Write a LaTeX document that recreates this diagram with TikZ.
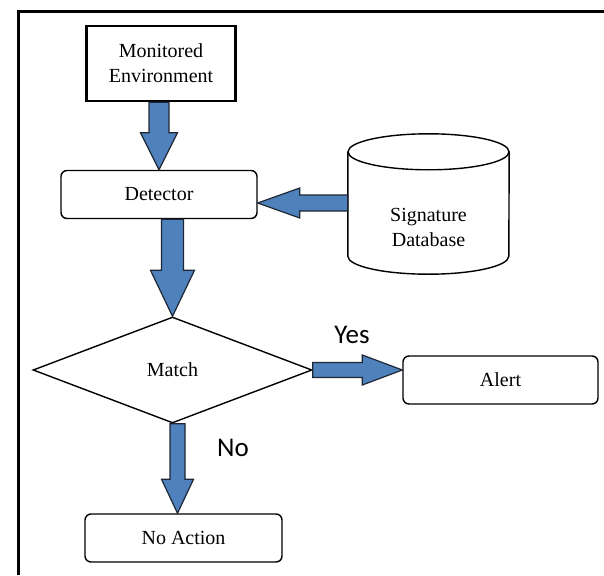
\documentclass[tikz,border=0pt]{standalone}
\usepackage{fontspec}
\setmainfont{Liberation Serif}
\newfontfamily\answerfont{Carlito}
\usetikzlibrary{arrows.meta,positioning,calc,shapes.geometric}
\definecolor{arrowblue}{HTML}{4F81BD}
\definecolor{arrowedge}{HTML}{1E2733}
\tikzset{
  boxfont/.style={font=\fontsize{20}{25}\selectfont},
  stepbox/.style={draw=black, rounded corners=6pt, line width=1.4pt,
    minimum width=196pt, minimum height=48pt, inner sep=0pt, boxfont},
  sourcebox/.style={draw=black, line width=2.6pt, minimum width=149pt,
    minimum height=75pt, inner sep=0pt, align=center, boxfont},
  decision/.style={diamond, draw=black, line width=1.4pt, aspect=2.6,
    minimum width=279pt, minimum height=106pt, inner sep=0pt, boxfont},
  store/.style={minimum width=161pt, minimum height=140pt, inner sep=0pt},
  storeline/.style={draw=black, line width=1.4pt},
  fatarrow/.style={draw=arrowedge, fill=arrowblue, line width=1.2pt, line join=miter},
  answer/.style={font=\answerfont\fontsize{27}{30}\selectfont},
  frame/.style={draw=black, line width=3pt},
}
% block arrow: from, to, half shaft, half head, head length
\newcommand{\fatarrow}[5]{%
  \coordinate (fa-h) at ($(#2)!#5!(#1)$);
  \draw[fatarrow] ($(#1)!#3!90:(#2)$) -- ($(fa-h)!#3!90:(#2)$)
    -- ($(fa-h)!#4!90:(#2)$) -- (#2) -- ($(fa-h)!#4!-90:(#2)$)
    -- ($(fa-h)!#3!-90:(#2)$) -- ($(#1)!#3!-90:(#2)$) -- cycle;
}

\begin{document}
\begin{tikzpicture}[x=1pt,y=-1pt]
  \useasboundingbox (0,0) rectangle (604,575);
  \draw[frame] (18,575) -- (18,11.5) -- (604,11.5);

  \node[sourcebox] (env) at (161,63.5) {Monitored\\Environment};
  \node[stepbox] (det) at (159,194.5) {Detector};
  \node[store] (db) at (428.5,204) {};
  \node[boxfont, align=center, inner sep=0pt] (dbtext) at (428.5,227) {Signature\\Database};
  \node[decision] (match) at (172.5,370) {Match};
  \node[stepbox, minimum width=195pt] (alert) at (500.5,380) {Alert};
  \node[stepbox, minimum width=197pt] (noact) at (183.5,538) {No Action};
  \node[answer] (yes) at (352,335) {Yes};
  \node[answer] (no) at (233,448) {No};

  % the database drum
  \draw[storeline] ([yshift=-18pt]db.north west) -- ([yshift=18pt]db.south west)
    arc[start angle=180, end angle=360, x radius=80.5pt, y radius=18pt]
    -- ([yshift=-18pt]db.north east);
  \draw[storeline] ([yshift=-18pt]db.north) ellipse[x radius=80.5pt, y radius=18pt];

  \coordinate (envout) at (env.south -| det.north);
  \coordinate (dbin) at ([yshift=-8.5pt]det.east);
  \coordinate (dbout) at (db.west |- dbin);
  \coordinate (detout) at (det.south -| match.north);
  \coordinate (yesin) at (match.east -| alert.west);
  \coordinate (noout) at ([xshift=5pt]match.south);
  \coordinate (noin) at (noout |- noact.north);

  \fatarrow{envout}{det.north}{10pt}{18.5pt}{37pt}
  \fatarrow{dbout}{dbin}{8pt}{15pt}{42pt}
  \fatarrow{detout}{match.north}{11pt}{22pt}{46pt}
  \fatarrow{match.east}{yesin}{7.5pt}{15pt}{40pt}
  \fatarrow{noout}{noin}{7.5pt}{16pt}{34pt}
\end{tikzpicture}
\end{document}
